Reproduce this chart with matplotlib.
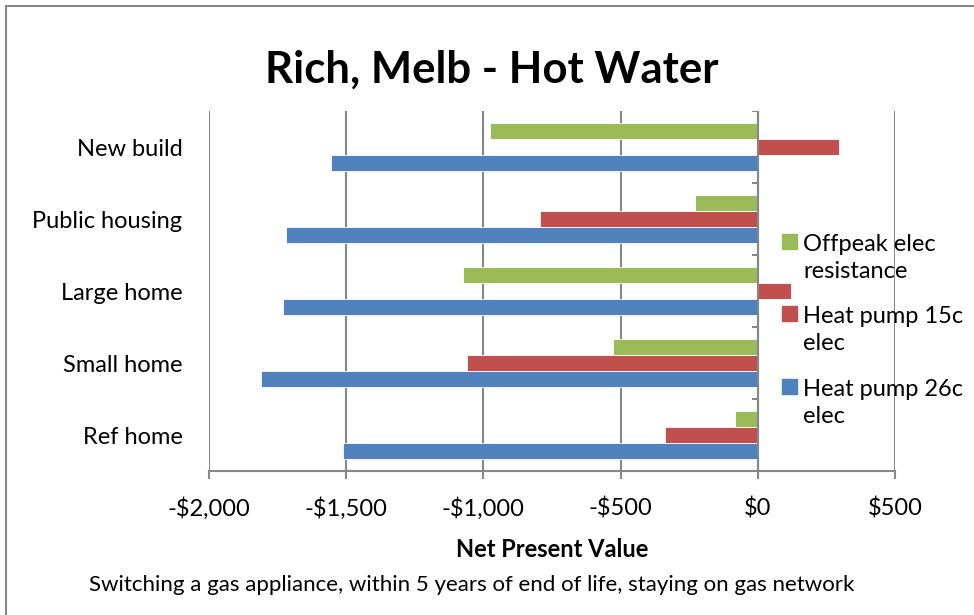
import matplotlib.pyplot as plt
import numpy as np
from matplotlib.lines import Line2D
from matplotlib.patches import Rectangle

# -------------------------
# Data
# -------------------------
categories = ["Ref home", "Small home", "Large home", "Public housing", "New build"]
heat_pump_26c = [-1512, -1811, -1731, -1720, -1556]
heat_pump_15c = [-339, -1060, 120, -794, 295]
offpeak_resist = [-84, -528, -1075, -230, -977]

series_labels = ["Heat pump 26c\nelec", "Heat pump 15c\nelec", "Offpeak elec\nresistance"]
colors = ["#4F81BD", "#C0504D", "#9BBB59"]

xticks = [-2000, -1500, -1000, -500, 0, 500]
xtick_labels = ["-$2,000", "-$1,500", "-$1,000", "-$500", "$0", "$500"]

plt.rcParams["font.family"] = ["Lato", "DejaVu Sans"]
grey = "#878787"
W, H = 974, 615

# -------------------------
# Plot
# -------------------------
fig = plt.figure(figsize=(9.74, 6.15), dpi=100)
ax = fig.add_axes([209 / W, 1 - 471 / H, 686 / W, 360 / H])

y = np.arange(len(categories))
h = 0.222
for i, (vals, lab, col) in enumerate(zip([heat_pump_26c, heat_pump_15c, offpeak_resist],
                                         series_labels, colors)):
    ax.barh(y + (i - 1) * h, vals, height=h, color=col, edgecolor="white",
            linewidth=0.6, label=lab, zorder=3)

ax.set_xlim(-2000, 500)
ax.set_ylim(-0.5, len(categories) - 0.5)

ax.set_xticks(xticks)
ax.set_xticklabels(xtick_labels, fontsize=17)
ax.set_yticks(y)
ax.set_yticklabels(categories, fontsize=17)
ax.tick_params(axis="y", length=0, pad=19)
ax.tick_params(axis="x", direction="out", length=6, width=1.5, color=grey, pad=13)

ax.grid(axis="x", color=grey, linewidth=1.5, zorder=0)
for s in ["top", "right", "left"]:
    ax.spines[s].set_visible(False)
ax.spines["bottom"].set_color(grey)
ax.spines["bottom"].set_linewidth(1.5)

# category axis drawn at $0 with ticks between groups
ax.axvline(0, color=grey, linewidth=1.5, zorder=4)
ax.hlines(np.arange(len(categories) + 1) - 0.5, -22, 0, color=grey, linewidth=1.5, zorder=4)

ax.set_xlabel("Net Present Value", fontsize=17, fontweight="bold", labelpad=13)

fig.text(492 / W, 1 - 70 / H, "Rich, Melb - Hot Water", fontsize=31.5,
         fontweight="bold", ha="center", va="center")
fig.text(472 / W, 1 - 585 / H,
         "Switching a gas appliance, within 5 years of end of life, staying on gas network",
         fontsize=16, ha="center", va="center")

# legend, Excel style: square aligned with the first text line
legend_y = [241.5, 313.5, 386.5]
for lab, col, ly in zip(series_labels[::-1], colors[::-1], legend_y):
    fig.add_artist(Rectangle(((789 - 7.5) / W, 1 - (ly + 7.5) / H), 15 / W, 15 / H,
                             transform=fig.transFigure, color=col))
    fig.text(803 / W, 1 - (ly + 16.5) / H, lab, fontsize=17, ha="left", va="center",
             linespacing=1.4)

# chart area border
fig.add_artist(Line2D([5.5 / W, 5.5 / W], [0, 1 - 5.5 / H], color=grey, linewidth=1.5))
fig.add_artist(Line2D([5.5 / W, 1], [1 - 5.5 / H, 1 - 5.5 / H], color=grey, linewidth=1.5))

plt.savefig("out.png", dpi=100)
